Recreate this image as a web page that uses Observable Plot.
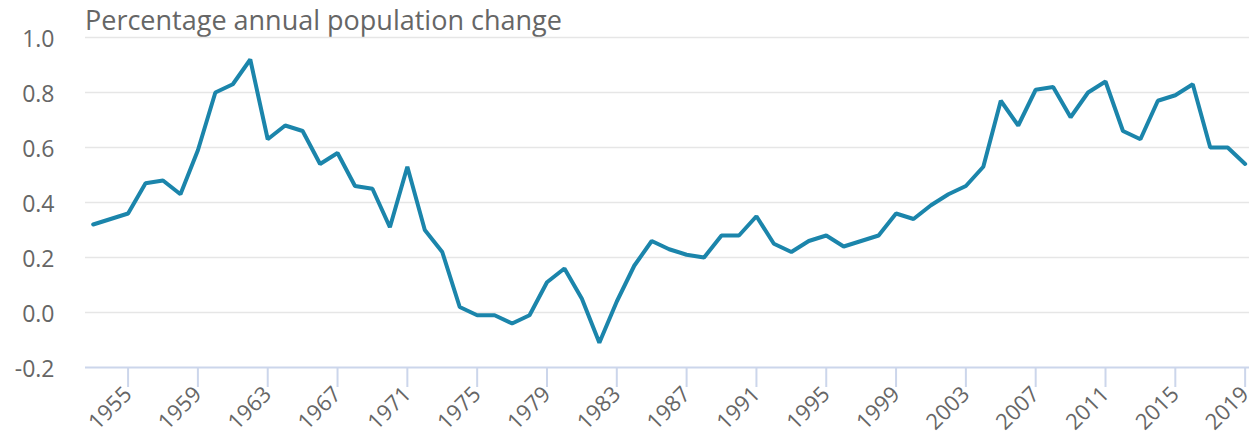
<!DOCTYPE html>
<html>
<head>
<meta charset="utf-8">
<script src="https://cdn.jsdelivr.net/npm/d3@7"></script>
<script src="https://cdn.jsdelivr.net/npm/@observablehq/plot@0.6"></script>
<style>
  body { margin: 0; background: #fff; font-family: "Open Sans", sans-serif; overflow: hidden; }
  #title { height: 32px; padding-top: 4px; line-height: 32px; padding-left: 85px; font-size: 27px; color: #666666; white-space: nowrap; }
  #chart svg { overflow: visible; display: block; }
</style>
</head>
<body>
<div id="title">Percentage annual population change</div>
<div id="chart"></div>
<script>
const years = [1953,1954,1955,1956,1957,1958,1959,1960,1961,1962,1963,1964,1965,1966,1967,1968,1969,1970,1971,1972,1973,1974,1975,1976,1977,1978,1979,1980,1981,1982,1983,1984,1985,1986,1987,1988,1989,1990,1991,1992,1993,1994,1995,1996,1997,1998,1999,2000,2001,2002,2003,2004,2005,2006,2007,2008,2009,2010,2011,2012,2013,2014,2015,2016,2017,2018,2019];
const change = [0.32,0.34,0.36,0.47,0.48,0.43,0.59,0.80,0.83,0.92,0.63,0.68,0.66,0.54,0.58,0.46,0.45,0.31,0.53,0.30,0.22,0.02,-0.01,-0.01,-0.04,-0.01,0.11,0.16,0.05,-0.11,0.04,0.17,0.26,0.23,0.21,0.20,0.28,0.28,0.35,0.25,0.22,0.26,0.28,0.24,0.26,0.28,0.36,0.34,0.39,0.43,0.46,0.53,0.77,0.68,0.81,0.82,0.71,0.80,0.84,0.66,0.63,0.77,0.79,0.83,0.60,0.60,0.54];
const xTicks = [1955,1959,1963,1967,1971,1975,1979,1983,1987,1991,1995,1999,2003,2007,2011,2015,2019];
const yTicks = [-0.2,0.0,0.2,0.4,0.6,0.8,1.0];

const data = years.map((y, i) => ({year: y, value: change[i]}));

const chart = Plot.plot({
  width: 1249,
  height: 407,
  marginTop: 1,
  marginBottom: 76,
  marginLeft: 85,
  marginRight: 0,
  style: {fontFamily: "Open Sans, sans-serif", background: "#fff", overflow: "visible"},
  x: {domain: [1952.56, 2019.25]},
  y: {domain: [-0.2, 1.0]},
  marks: [
    Plot.gridY(yTicks.filter(d => d > -0.2), {stroke: "#e6e6e6", strokeOpacity: 1, strokeWidth: 1.6}),
    Plot.ruleY([-0.2], {stroke: "#ccd6eb", strokeWidth: 2}),
    Plot.axisY({ticks: yTicks, tickSize: 0, tickPadding: 31, tickFormat: d => d.toFixed(1), fontSize: 23, fill: "#666666", dy: 2.5, label: null}),
    Plot.axisX({ticks: xTicks, tickSize: 20, tickPadding: 3, tickRotate: -45, tickFormat: d => String(d), fontSize: 22, stroke: "#ccd6eb", strokeWidth: 2, strokeOpacity: 1, fill: "#666666", label: null}),
    Plot.line(data, {x: "year", y: "value", stroke: "#1b85ab", strokeWidth: 4, strokeLinejoin: "miter", strokeLinecap: "round"})
  ]
});
d3.select(chart).selectAll('g[aria-label="x-axis tick label"]').attr("font-size", 22).attr("font-variant", "normal");
d3.select(chart).selectAll('g[aria-label="y-axis tick label"]').attr("font-size", 23).attr("font-variant", "normal");
document.getElementById("chart").appendChild(chart);
</script>
</body>
</html>
